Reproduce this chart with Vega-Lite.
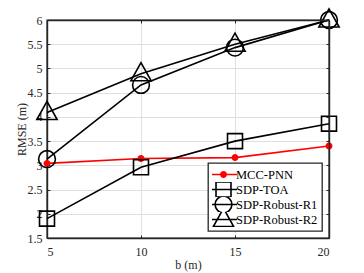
{
  "$schema": "https://vega.github.io/schema/vega-lite/v6.json",
  "width": 282,
  "height": 218,
  "autosize": "none",
  "padding": {"left": 47, "top": 20, "right": 35, "bottom": 35},
  "background": "white",
  "data": {
    "values": [
      {"b": 5, "rmse": 3.04, "method": "MCC-PNN"},
      {"b": 10, "rmse": 3.14, "method": "MCC-PNN"},
      {"b": 15, "rmse": 3.16, "method": "MCC-PNN"},
      {"b": 20, "rmse": 3.40, "method": "MCC-PNN"},
      {"b": 5, "rmse": 1.90, "method": "SDP-TOA"},
      {"b": 10, "rmse": 2.96, "method": "SDP-TOA"},
      {"b": 15, "rmse": 3.50, "method": "SDP-TOA"},
      {"b": 20, "rmse": 3.86, "method": "SDP-TOA"},
      {"b": 5, "rmse": 3.13, "method": "SDP-Robust-R1"},
      {"b": 10, "rmse": 4.66, "method": "SDP-Robust-R1"},
      {"b": 15, "rmse": 5.43, "method": "SDP-Robust-R1"},
      {"b": 20, "rmse": 6.0, "method": "SDP-Robust-R1"},
      {"b": 5, "rmse": 4.09, "method": "SDP-Robust-R2"},
      {"b": 10, "rmse": 4.89, "method": "SDP-Robust-R2"},
      {"b": 15, "rmse": 5.50, "method": "SDP-Robust-R2"},
      {"b": 20, "rmse": 6.0, "method": "SDP-Robust-R2"}
    ]
  },
  "config": {
    "font": "Times New Roman",
    "view": {"stroke": "#262626", "strokeWidth": 1.4},
    "axis": {
      "labelFont": "Times New Roman",
      "labelFontSize": 12,
      "labelColor": "#262626",
      "titleFont": "Times New Roman",
      "titleFontSize": 12,
      "titleFontWeight": "normal",
      "titleColor": "#262626",
      "domainColor": "#262626",
      "domainWidth": 1.4,
      "tickColor": "#262626",
      "tickWidth": 1,
      "gridColor": "#dfdfdf",
      "gridWidth": 1
    },
    "legend": {
      "orient": "bottom-right",
      "offset": 7,
      "strokeColor": "#262626",
      "strokeWidth": 1.3,
      "fillColor": "white",
      "padding": 4,
      "rowPadding": 0,
      "clipHeight": 15,
      "labelFont": "Times New Roman",
      "labelFontSize": 12.5,
      "labelColor": "#000000",
      "labelOffset": 4.5,
      "symbolOffset": 3.5,
      "symbolSize": 196,
      "symbolStrokeWidth": 1.6,
      "symbolOpacity": 1
    }
  },
  "layer": [
    {
      "mark": {"type": "line", "strokeWidth": 1.6},
      "encoding": {
        "x": {
          "field": "b", "type": "quantitative",
          "scale": {"domain": [5, 20], "nice": false},
          "axis": {"orient": "bottom", "values": [5, 10, 15, 20], "title": "b (m)", "titlePadding": 2, "tickSize": -3, "labelPadding": 11, "grid": true}
        },
        "y": {
          "field": "rmse", "type": "quantitative",
          "scale": {"domain": [1.5, 6], "nice": false, "zero": false},
          "axis": {"orient": "left", "values": [1.5, 2, 2.5, 3, 3.5, 4, 4.5, 5, 5.5, 6], "format": "~g", "title": "RMSE (m)", "titlePadding": -1, "tickSize": -3, "labelPadding": 8, "grid": true}
        },
        "stroke": {
          "field": "method", "type": "nominal",
          "scale": {"domain": ["MCC-PNN", "SDP-TOA", "SDP-Robust-R1", "SDP-Robust-R2"], "range": ["#ff0000", "#000000", "#000000", "#000000"]},
          "legend": {"title": null}
        }
      }
    },
    {
      "mark": {"type": "point", "filled": false, "size": 196, "strokeWidth": 1.6, "opacity": 0},
      "encoding": {
        "x": {
          "field": "b", "type": "quantitative",
          "axis": {"orient": "top", "values": [5, 10, 15, 20], "title": null, "labels": false, "grid": false, "tickSize": -3, "zindex": 1}
        },
        "y": {
          "field": "rmse", "type": "quantitative",
          "axis": {"orient": "right", "values": [1.5, 2, 2.5, 3, 3.5, 4, 4.5, 5, 5.5, 6], "title": null, "labels": false, "grid": false, "tickSize": -3, "zindex": 1}
        },
        "stroke": {"field": "method", "type": "nominal", "legend": {"title": null}},
        "fill": {
          "field": "method", "type": "nominal",
          "scale": {"domain": ["MCC-PNN", "SDP-TOA", "SDP-Robust-R1", "SDP-Robust-R2"], "range": ["#ff0000", "transparent", "transparent", "transparent"]},
          "legend": {"title": null}
        },
        "shape": {
          "field": "method", "type": "nominal",
          "scale": {
            "domain": ["MCC-PNN", "SDP-TOA", "SDP-Robust-R1", "SDP-Robust-R2"],
            "range": [
              "M-1.93,0H1.93M-0.38,0A0.38,0.38,0,1,1,0.38,0A0.38,0.38,0,1,1,-0.38,0",
              "M-1.93,0H1.93M-1.07,-1.07H1.07V1.07H-1.07Z",
              "M-1.93,0H1.93M-1.2,0A1.2,1.2,0,1,1,1.2,0A1.2,1.2,0,1,1,-1.2,0",
              "M-1.93,0H1.93M0,-1.6L1.45,1L-1.45,1Z"
            ]
          },
          "legend": {"title": null}
        }
      }
    },
    {
      "transform": [{"filter": "datum.method === 'MCC-PNN'"}],
      "mark": {"type": "point", "shape": "M-0.38,0A0.38,0.38,0,1,1,0.38,0A0.38,0.38,0,1,1,-0.38,0", "size": 196, "filled": true, "fill": "#ff0000", "stroke": "#ff0000", "strokeWidth": 1.6, "opacity": 1},
      "encoding": {
        "x": {"field": "b", "type": "quantitative", "axis": null},
        "y": {"field": "rmse", "type": "quantitative", "axis": null}
      }
    },
    {
      "transform": [{"filter": "datum.method === 'SDP-TOA'"}],
      "mark": {"type": "point", "shape": "M-1.07,-1.07H1.07V1.07H-1.07Z", "size": 196, "filled": false, "fill": "transparent", "stroke": "#000000", "strokeWidth": 1.6, "opacity": 1},
      "encoding": {
        "x": {"field": "b", "type": "quantitative", "axis": null},
        "y": {"field": "rmse", "type": "quantitative", "axis": null}
      }
    },
    {
      "transform": [{"filter": "datum.method === 'SDP-Robust-R1'"}],
      "mark": {"type": "point", "shape": "M-1.2,0A1.2,1.2,0,1,1,1.2,0A1.2,1.2,0,1,1,-1.2,0", "size": 196, "filled": false, "fill": "transparent", "stroke": "#000000", "strokeWidth": 1.6, "opacity": 1},
      "encoding": {
        "x": {"field": "b", "type": "quantitative", "axis": null},
        "y": {"field": "rmse", "type": "quantitative", "axis": null}
      }
    },
    {
      "transform": [{"filter": "datum.method === 'SDP-Robust-R2'"}],
      "mark": {"type": "point", "shape": "M0,-1.6L1.45,1L-1.45,1Z", "size": 196, "filled": false, "fill": "transparent", "stroke": "#000000", "strokeWidth": 1.6, "opacity": 1},
      "encoding": {
        "x": {"field": "b", "type": "quantitative", "axis": null},
        "y": {"field": "rmse", "type": "quantitative", "axis": null}
      }
    }
  ],
  "resolve": {"axis": {"x": "independent", "y": "independent"}}
}
